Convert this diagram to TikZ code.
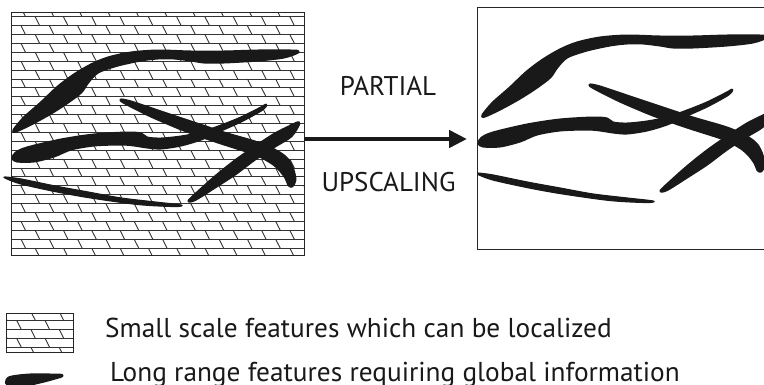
\documentclass[tikz,border=0pt]{standalone}
\usepackage{fontspec}
\setmainfont{PT Sans}
\usetikzlibrary{arrows.meta}
\tikzset{
  brick/.style={line width=0.9pt, draw=black!80},
  frame/.style={line width=1pt, draw=black!85},
  feat/.style={fill=black!90, draw=black!90, line width=3pt, line join=round},
  featthin/.style={fill=black!90, draw=black!90, line width=1.2pt, line join=round},
  bigarrow/.style={line width=4.5pt, draw=black!90, -{Triangle[length=18pt,width=17pt]}},
  lbl/.style={font=\fontsize{27}{32}\selectfont, text=black!90, inner sep=0pt, anchor=base},
  leg/.style={font=\fontsize{27.3}{32}\selectfont, text=black!90, inner sep=0pt, anchor=base west},
}
\newcommand\brickfill[6]{%
  \begin{scope}
    \clip (#1,#2) rectangle (#3,#4);
    \foreach \k in {0,...,28} {
      \pgfmathsetmacro\yy{#5+8.9*\k}
      \pgfmathsetmacro\xo{#6+mod(\k,2)*14.15}
      \draw[brick] (#1,\yy) -- (#3,\yy);
      \foreach \j in {-1,...,11} {
        \draw[brick] ({\xo+28.3*\j},{\yy-8.9}) -- ({\xo+28.3*\j+4.5},\yy);
      }
    }
  \end{scope}
  \draw[frame] (#1,#2) rectangle (#3,#4);
}
\newcommand\featUpper{\filldraw[feat] plot[smooth cycle, tension=0.5] coordinates {
  (14,130) (24,118) (41,103) (58,87) (74,75) (91,65) (108,58) (131,53) (158,51) (191,52)
  (224,52) (258,51) (291,51) (298,52) (284,57) (258,60) (224,62) (204,62) (191,60) (174,58)
  (158,58) (141,60) (118,65) (98,72) (88,82) (81,92) (68,102) (51,113) (31,124) (16,131)};}
\newcommand\featMiddle{\filldraw[feat] plot[smooth cycle, tension=0.5] coordinates {
  (13,158) (16,153) (27,148) (61,140) (94,135) (127,133) (141,134) (147,138) (161,139)
  (181,137) (201,133) (221,126) (241,118) (261,108) (266,105) (261,110) (241,121) (221,130)
  (201,139) (181,145) (161,148) (147,147) (134,145) (121,144) (94,145) (71,149) (54,156)
  (34,161) (17,161)};}
\newcommand\featA{\filldraw[feat] plot[smooth cycle, tension=0.5] coordinates {
  (121,100) (131,102) (158,111) (191,122) (224,133) (258,143) (278,152) (288,160) (293,170)
  (295,180) (292,186) (289,185) (286,178) (280,170) (272,163) (255,154) (218,142) (184,130)
  (151,116) (127,104)};}
\newcommand\featB{\filldraw[feat] plot[smooth cycle, tension=0.5] coordinates {
  (189,201) (196,194) (215,177) (235,161) (255,147) (275,134) (291,126) (299,123)
  (291,136) (275,146) (255,159) (235,174) (215,187) (196,199)};}
\newcommand\featLow{\filldraw[featthin] plot[smooth cycle, tension=0.5] coordinates {
  (5,177) (21,179) (55,186) (88,192) (121,198) (155,202) (181,205) (175,206.5) (138,204.5)
  (88,197.5) (55,191.5) (21,184) (6,178.5)};}
\begin{document}
\begin{tikzpicture}[x=1pt,y=-1pt]
  \useasboundingbox (0,0) rectangle (764,384);
  \fill[white] (0,0) rectangle (764,384);
  % left box with small-scale pattern
  \brickfill{11}{12}{304}{255}{16.7}{21}
  \featUpper \featMiddle \featA \featB \featLow
  % right box
  \begin{scope}
    \clip (477,7) rectangle (764,249);
    \begin{scope}[shift={(469,-15)}] \featUpper \featA \end{scope}
    \begin{scope}[shift={(466,-15)}] \featMiddle \end{scope}
    \begin{scope}[shift={(472,-10)}] \featB \end{scope}
    \begin{scope}[shift={(472,-4)}] \featLow \end{scope}
  \end{scope}
  \draw[frame] (477,7) rectangle (765,249);
  % arrow
  \coordinate (arrS) at (304,139);
  \coordinate (arrE) at (467,139);
  \draw[bigarrow] (arrS) -- (arrE);
  \node[lbl] (partial) at (388,95) {PARTIAL};
  \node[lbl] (upscaling) at (388.5,191) {UPSCALING};
  % legend
  \brickfill{6}{313}{73}{352}{320.7}{31}
  \fill[feat] plot[smooth cycle, tension=0.6] coordinates {(7,380) (12,377) (30,375) (50,375) (62,375.5) (55,378) (40,382) (20,386) (8,385)};
  \node[leg] (leg1) at (105,337) {Small scale features which can be localized};
  \node[leg] (leg2) at (110,381) {Long range features requiring global information};
\end{tikzpicture}
\end{document}
